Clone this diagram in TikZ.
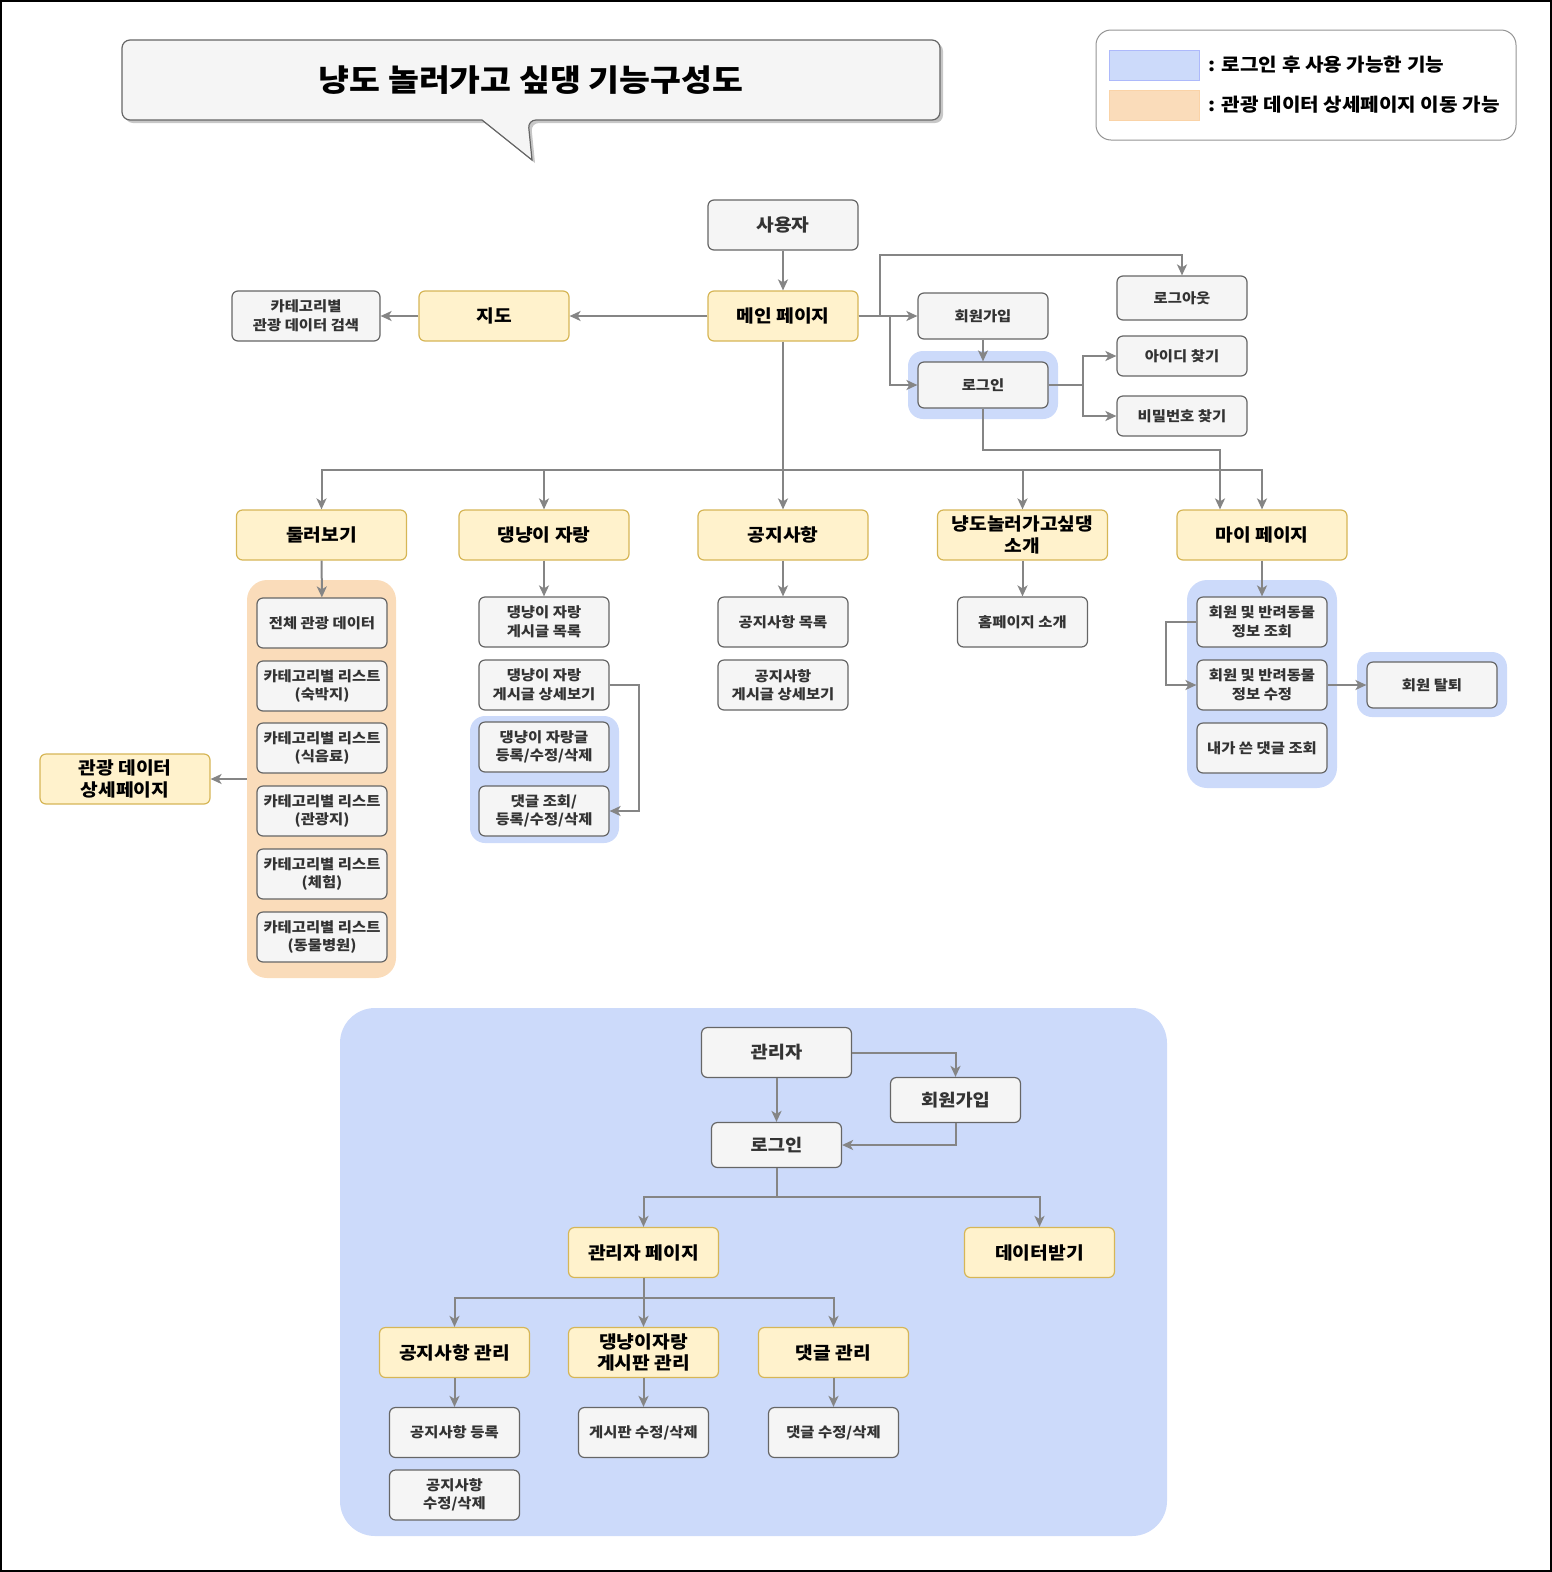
\documentclass[tikz,border=0pt]{standalone}
\usepackage{fontspec}
\setmainfont{Noto Sans CJK KR}[FakeStretch=1.1]
\usetikzlibrary{arrows.meta}

\definecolor{linegray}{HTML}{858585}
\definecolor{boxline}{HTML}{666666}
\definecolor{boxfill}{HTML}{F5F5F5}
\definecolor{textdark}{HTML}{333333}
\definecolor{ylfill}{HTML}{FFF2CC}
\definecolor{ylline}{HTML}{D6B656}
\definecolor{bluefill}{RGB}{204,218,250}
\definecolor{orangefill}{RGB}{250,220,186}

\newcommand{\fs}[2]{\bfseries\fontsize{#1}{#2}\selectfont}

\begin{document}
\begin{tikzpicture}[x=1pt,y=-1pt,
    link/.style={draw=linegray, line width=2pt, -{Stealth[length=11pt,width=10pt,inset=3pt]}},
    wire/.style={draw=linegray, line width=2pt},
    gbox/.style={draw=boxline, fill=boxfill, text=textdark, rounded corners=6pt, line width=1.2pt,
        minimum width=130pt, minimum height=50pt, align=center, inner sep=2pt, font=\fs{14}{18.5}},
    ybox/.style={draw=ylline, fill=ylfill, text=black, rounded corners=6pt, line width=1.2pt,
        minimum width=170pt, minimum height=50pt, align=center, inner sep=2pt, font=\fs{17.5}{21.5}},
    bluebg/.style={fill=bluefill, rounded corners=15pt, inner sep=0pt},
    orangebg/.style={fill=orangefill, rounded corners=20pt, inner sep=0pt},
    every node/.style={font=\fs{14}{18}}
]
    \useasboundingbox (0,0) rectangle (1552,1572);
    \draw[black, line width=1.5pt] (1,1) rectangle (1551,1571);

    % title callout
    \path[fill=black!22] (125,83) [rounded corners=8pt] |- (943,43) |- (531,123) [sharp corners] -- (535,163) -- (485,123) [rounded corners=8pt] -| (125,83) [sharp corners] -- cycle;
    \path[fill=boxfill, draw=boxline, line width=1.2pt] (122,80) [rounded corners=8pt] |- (940,40) |- (528,120) [sharp corners] -- (532,160) -- (482,120) [rounded corners=8pt] -| (122,80) [sharp corners] -- cycle;
    \node[font=\fs{30.5}{36}] (title) at (531,80) {냥도 놀러가고 싶댕 기능구성도};

    % legend
    \node[draw=boxline!70, fill=white, rounded corners=15pt, line width=1pt, minimum width=420pt, minimum height=110pt] (legend) at (1306,85) {};
    \node[fill=bluefill, draw=bluefill!85!blue, minimum width=90pt, minimum height=30pt] (keyblue) at (1154,65) {};
    \node[fill=orangefill, draw=orangefill!90!orange, minimum width=90pt, minimum height=30pt] (keyorange) at (1154,105) {};
    \node[anchor=west, xshift=6pt, font=\fs{18.3}{20}] (keybluetext) at (keyblue.east) {: 로그인 후 사용 가능한 기능};
    \node[anchor=west, xshift=6pt, font=\fs{18.3}{20}] (keyorangetext) at (keyorange.east) {: 관광 데이터 상세페이지 이동 가능};

    % user side, top
    \node[gbox, minimum width=150pt, font=\fs{17.5}{21.5}] (user) at (783,225) {사용자};
    \node[ybox, minimum width=150pt] (main) at (783,316) {메인 페이지};
    \node[ybox, minimum width=150pt] (map) at (494,316) {지도};
    \node[gbox, minimum width=148pt] (catsearch) at (306,316) {카테고리별\\관광 데이터 검색};
    \node[gbox, minimum height=46pt] (join) at (983,316) {회원가입};
    \node[bluebg, minimum width=150pt, minimum height=68pt] (loginbg) at (983,385) {};
    \node[gbox, minimum height=46pt] (login) at (983,385) {로그인};
    \node[gbox, minimum height=44pt] (logout) at (1182,298) {로그아웃};
    \node[gbox, minimum height=40pt] (findid) at (1182,356) {아이디 찾기};
    \node[gbox, minimum height=40pt] (findpw) at (1182,416) {비밀번호 찾기};

    % menus
    \node[ybox] (tour) at (321.5,535) {둘러보기};
    \node[ybox] (pet) at (544,535) {댕냥이 자랑};
    \node[ybox] (notice) at (783,535) {공지사항};
    \node[ybox] (intro) at (1022.5,535) {냥도놀러가고싶댕\\소개};
    \node[ybox] (mypage) at (1262,535) {마이 페이지};

    % tour column
    \node[orangebg, minimum width=149pt, minimum height=398pt] (tourbg) at (321.5,779) {};
    \node[gbox] (all) at (322,623) {전체 관광 데이터};
    \node[gbox] (stay) at (322,686) {카테고리별 리스트\\(숙박지)};
    \node[gbox] (food) at (322,748) {카테고리별 리스트\\(식음료)};
    \node[gbox] (sight) at (322,811) {카테고리별 리스트\\(관광지)};
    \node[gbox] (exp) at (322,874) {카테고리별 리스트\\(체험)};
    \node[gbox] (vet) at (322,937) {카테고리별 리스트\\(동물병원)};
    \node[ybox] (detail) at (125,779) {관광 데이터\\상세페이지};

    % pet column
    \node[gbox] (petlist) at (544,622) {댕냥이 자랑\\게시글 목록};
    \node[gbox] (petview) at (544,685) {댕냥이 자랑\\게시글 상세보기};
    \node[bluebg, minimum width=149pt, minimum height=127pt] (petbg) at (544.5,779.5) {};
    \node[gbox] (petpost) at (544,747) {댕냥이 자랑글\\등록/수정/삭제};
    \node[gbox] (petcmt) at (544,811) {댓글 조회/\\등록/수정/삭제};

    % notice, intro
    \node[gbox] (noticelist) at (783,622) {공지사항 목록};
    \node[gbox] (noticeview) at (783,685) {공지사항\\게시글 상세보기};
    \node[gbox] (home) at (1022.5,622) {홈페이지 소개};

    % my page column
    \node[bluebg, rounded corners=20pt, minimum width=150pt, minimum height=208pt] (mybg) at (1262,684) {};
    \node[gbox] (myinfo) at (1262,622) {회원 및 반려동물\\정보 조회};
    \node[gbox] (myedit) at (1262,685) {회원 및 반려동물\\정보 수정};
    \node[gbox] (mycmt) at (1262,748) {내가 쓴 댓글 조회};
    \node[bluebg, minimum width=150pt, minimum height=65pt] (quitbg) at (1432,684.5) {};
    \node[gbox, minimum height=46pt] (quit) at (1432,685) {회원 탈퇴};

    % top connectors
    \draw[link] (user) -- (main);
    \draw[link] (main) -- (map);
    \draw[link] (map) -- (catsearch);
    \draw[link] (main) -- (join);
    \draw[link] (main.east) -- ++(31,0) |- (login.west);
    \coordinate (lo) at (880,255);
    \draw[link] (main.east) -| (lo) -| (logout.north);
    \draw[link] (join) -- (login);
    \draw[link] (login.east) -- ++(34,0) |- (findid.west);
    \draw[link] (login.east) -- ++(34,0) |- (findpw.west);
    \coordinate (lm) at (1220,450);
    \draw[link] (login.south) |- (lm) -- (lm |- mypage.north);
    \coordinate (bus) at (783,470);
    \draw[wire] (main.south) -- (bus);
    \draw[link] (bus) -| (tour.north);
    \draw[link] (bus) -| (pet.north);
    \draw[link] (bus) -- (notice.north);
    \draw[link] (bus) -| (intro.north);
    \draw[link] (bus) -| (mypage.north);

    % column connectors
    \draw[link] (tour) -- (all);
    \draw[link] (tourbg.west |- detail) -- (detail);
    \draw[link] (pet) -- (petlist);
    \draw[link] (petview.east) -- ++(29,0) |- (petcmt.east);
    \draw[link] (notice) -- (noticelist);
    \draw[link] (intro) -- (home);
    \draw[link] (mypage) -- (myinfo);
    \draw[link] (myinfo.west) -- ++(-30,0) |- (myedit.west);
    \draw[link] (myedit) -- (quit);

    % admin side
    \node[bluebg, rounded corners=35pt, minimum width=827pt, minimum height=528pt] (adminbg) at (753.5,1272) {};
    \node[gbox, minimum width=150pt, font=\fs{17}{21}] (admin) at (776.5,1052.5) {관리자};
    \node[gbox, minimum height=45pt, font=\fs{17}{21}] (ajoin) at (955.5,1100) {회원가입};
    \node[gbox, minimum height=45pt, font=\fs{17}{21}] (alogin) at (776.5,1145) {로그인};
    \node[ybox, minimum width=150pt] (apage) at (643.5,1252.5) {관리자 페이지};
    \node[ybox, minimum width=150pt] (adata) at (1039.5,1252.5) {데이터받기};
    \node[ybox, minimum width=150pt] (anotice) at (454.5,1352.5) {공지사항 관리};
    \node[ybox, minimum width=150pt] (apet) at (643.5,1352.5) {댕냥이자랑\\게시판 관리};
    \node[ybox, minimum width=150pt] (acmt) at (833.5,1352.5) {댓글 관리};
    \node[gbox] (anreg) at (454.5,1432.5) {공지사항 등록};
    \node[gbox] (anedit) at (454.5,1495) {공지사항\\수정/삭제};
    \node[gbox] (apetedit) at (643.5,1432.5) {게시판 수정/삭제};
    \node[gbox] (acmtedit) at (833.5,1432.5) {댓글 수정/삭제};

    \draw[link] (admin.east) -| (ajoin.north);
    \draw[link] (admin) -- (alogin);
    \draw[link] (ajoin.south) |- (alogin.east);
    \coordinate (abus) at (776.5,1197);
    \draw[wire] (alogin.south) -- (abus);
    \draw[link] (abus) -| (apage.north);
    \draw[link] (abus) -| (adata.north);
    \coordinate (pbus) at (643.5,1298);
    \draw[wire] (apage.south) -- (pbus);
    \draw[link] (pbus) -| (anotice.north);
    \draw[link] (pbus) -- (apet.north);
    \draw[link] (pbus) -| (acmt.north);
    \draw[link] (anotice) -- (anreg);
    \draw[link] (apet) -- (apetedit);
    \draw[link] (acmt) -- (acmtedit);
\end{tikzpicture}
\end{document}
